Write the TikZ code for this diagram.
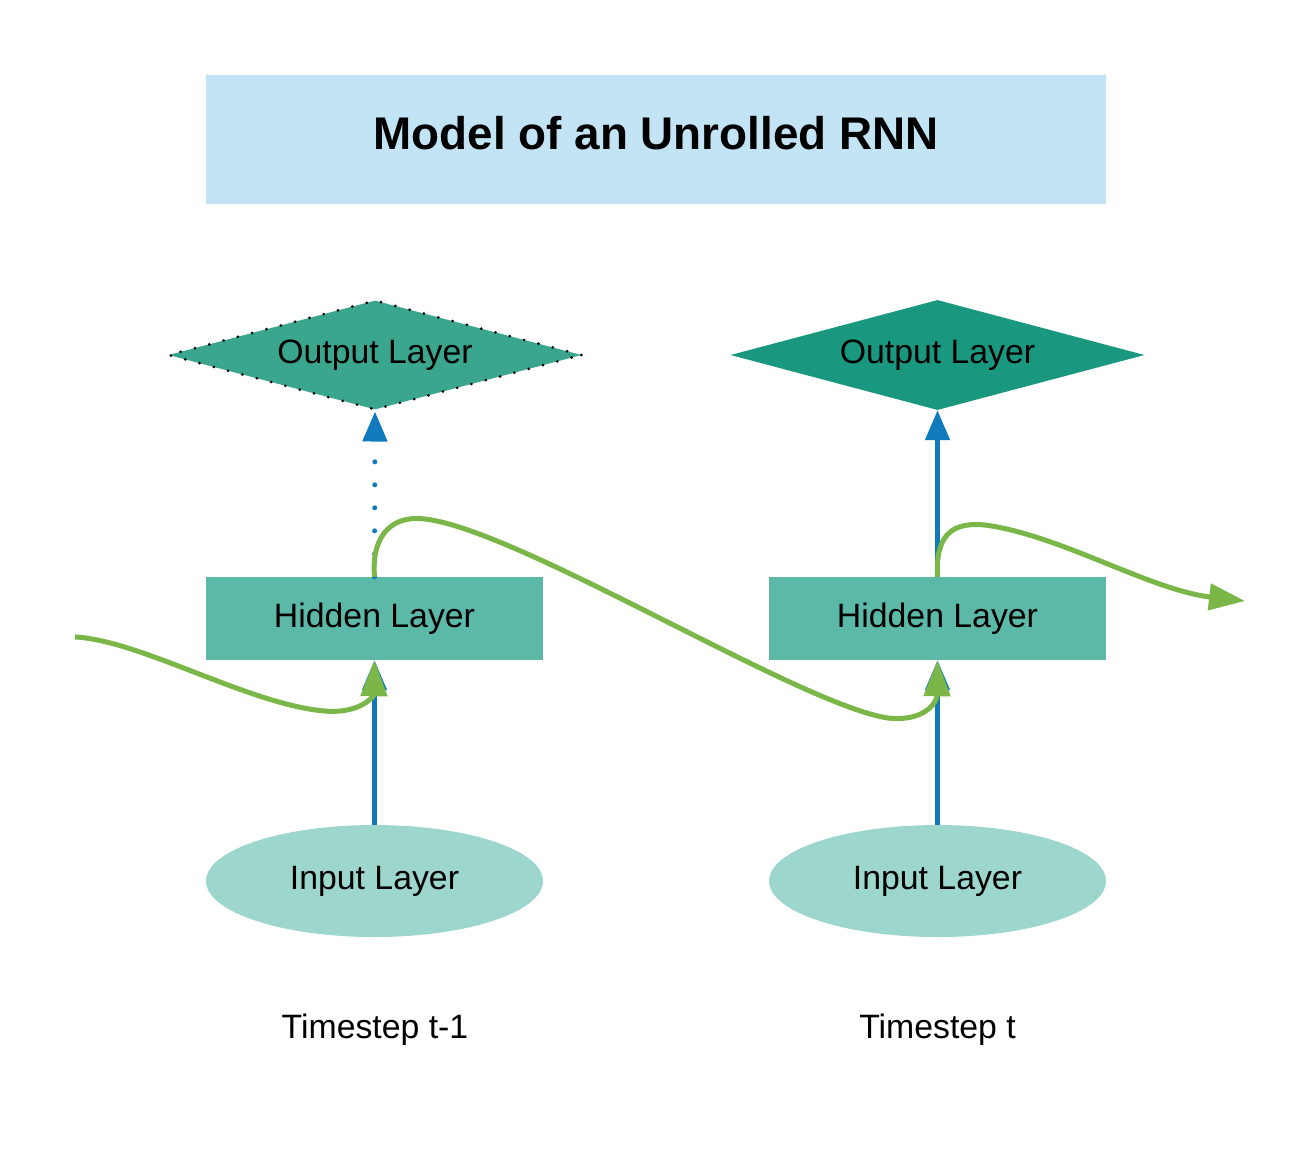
\documentclass[tikz,border=0pt]{standalone}
\usepackage{fontspec}
\setmainfont{Liberation Sans}
\usetikzlibrary{shapes.geometric,arrows.meta}
\definecolor{titlebg}{HTML}{C2E4F5}
\definecolor{outA}{HTML}{3AA68E}
\definecolor{outB}{HTML}{1A977F}
\definecolor{hidc}{HTML}{5CB9A8}
\definecolor{inc}{HTML}{9CD6CC}
\definecolor{blu}{HTML}{0F7BBD}
\definecolor{grn}{HTML}{7AB648}
\tikzset{
  lbl/.style={font=\fontsize{33.8}{38}\selectfont, text=black},
  outbox/.style={diamond, aspect=3.76, minimum width=414pt, minimum height=110pt, inner sep=0pt, lbl},
  hidbox/.style={rectangle, fill=hidc, minimum width=337pt, minimum height=83pt, inner sep=0pt, lbl},
  inbox/.style={ellipse, fill=inc, minimum width=337pt, minimum height=112pt, inner sep=0pt, lbl},
  bluearrow/.style={draw=blu, line width=5pt, -{Triangle[length=30pt,width=24pt]}},
  greenarrow/.style={draw=grn, line width=5pt, -{Triangle[length=36pt,width=26pt]}},
}
\begin{document}
\begin{tikzpicture}[x=1pt,y=-1pt]
\useasboundingbox (0,0) rectangle (1313,1163);
% title
\node[rectangle, fill=titlebg, minimum width=900pt, minimum height=129pt, inner sep=0pt,
  font=\fontsize{45.8}{52}\selectfont\bfseries, text depth=14pt] (title) at (656,139.5) {Model of an Unrolled RNN};
% outputs
\node[outbox, fill=outA, draw=black, line width=3pt, line cap=round, dash pattern=on 0pt off 14.8pt] (out1) at (375,355) {Output Layer};
\node[outbox, fill=outB] (out2) at (937.5,355) {Output Layer};
% hidden
\node[hidbox] (hid1) at (374.5,618.5) {Hidden Layer};
\node[hidbox] (hid2) at (937.5,618.5) {Hidden Layer};
% inputs
\node[inbox] (in1) at (374.5,881) {Input Layer};
\node[inbox] (in2) at (937.5,881) {Input Layer};
% timestep labels
\node[lbl] (ts1) at (375,1030) {Timestep t-1};
\node[lbl] (ts2) at (937.5,1030) {Timestep t};
% blue connectors
\draw[bluearrow] (in1.north) -- (hid1.south);
\draw[bluearrow] (in2.north) -- (hid2.south);
\draw[bluearrow, line cap=round, dash pattern=on 0pt off 23pt] (hid1.north) -- (out1.south);
\draw[bluearrow] (hid2.north) -- (out2.south);
% green recurrent connectors
\coordinate (gstart) at (75,637);
\coordinate (gend) at (1245,601);
\draw[greenarrow] (gstart) .. controls (140,640) and (250,705) .. (325,711)
   .. controls (362,714) and (374,695) .. (hid1.south);
\draw[greenarrow] (hid1.north) .. controls (371,532) and (395,515) .. (425,519)
   .. controls (520,530) and (800,705) .. (888,718)
   .. controls (925,722) and (937,702) .. (hid2.south);
\draw[greenarrow] (hid2.north) .. controls (935,532) and (955,522) .. (985,525)
   .. controls (1060,535) and (1150,590) .. (gend);
\end{tikzpicture}
\end{document}
